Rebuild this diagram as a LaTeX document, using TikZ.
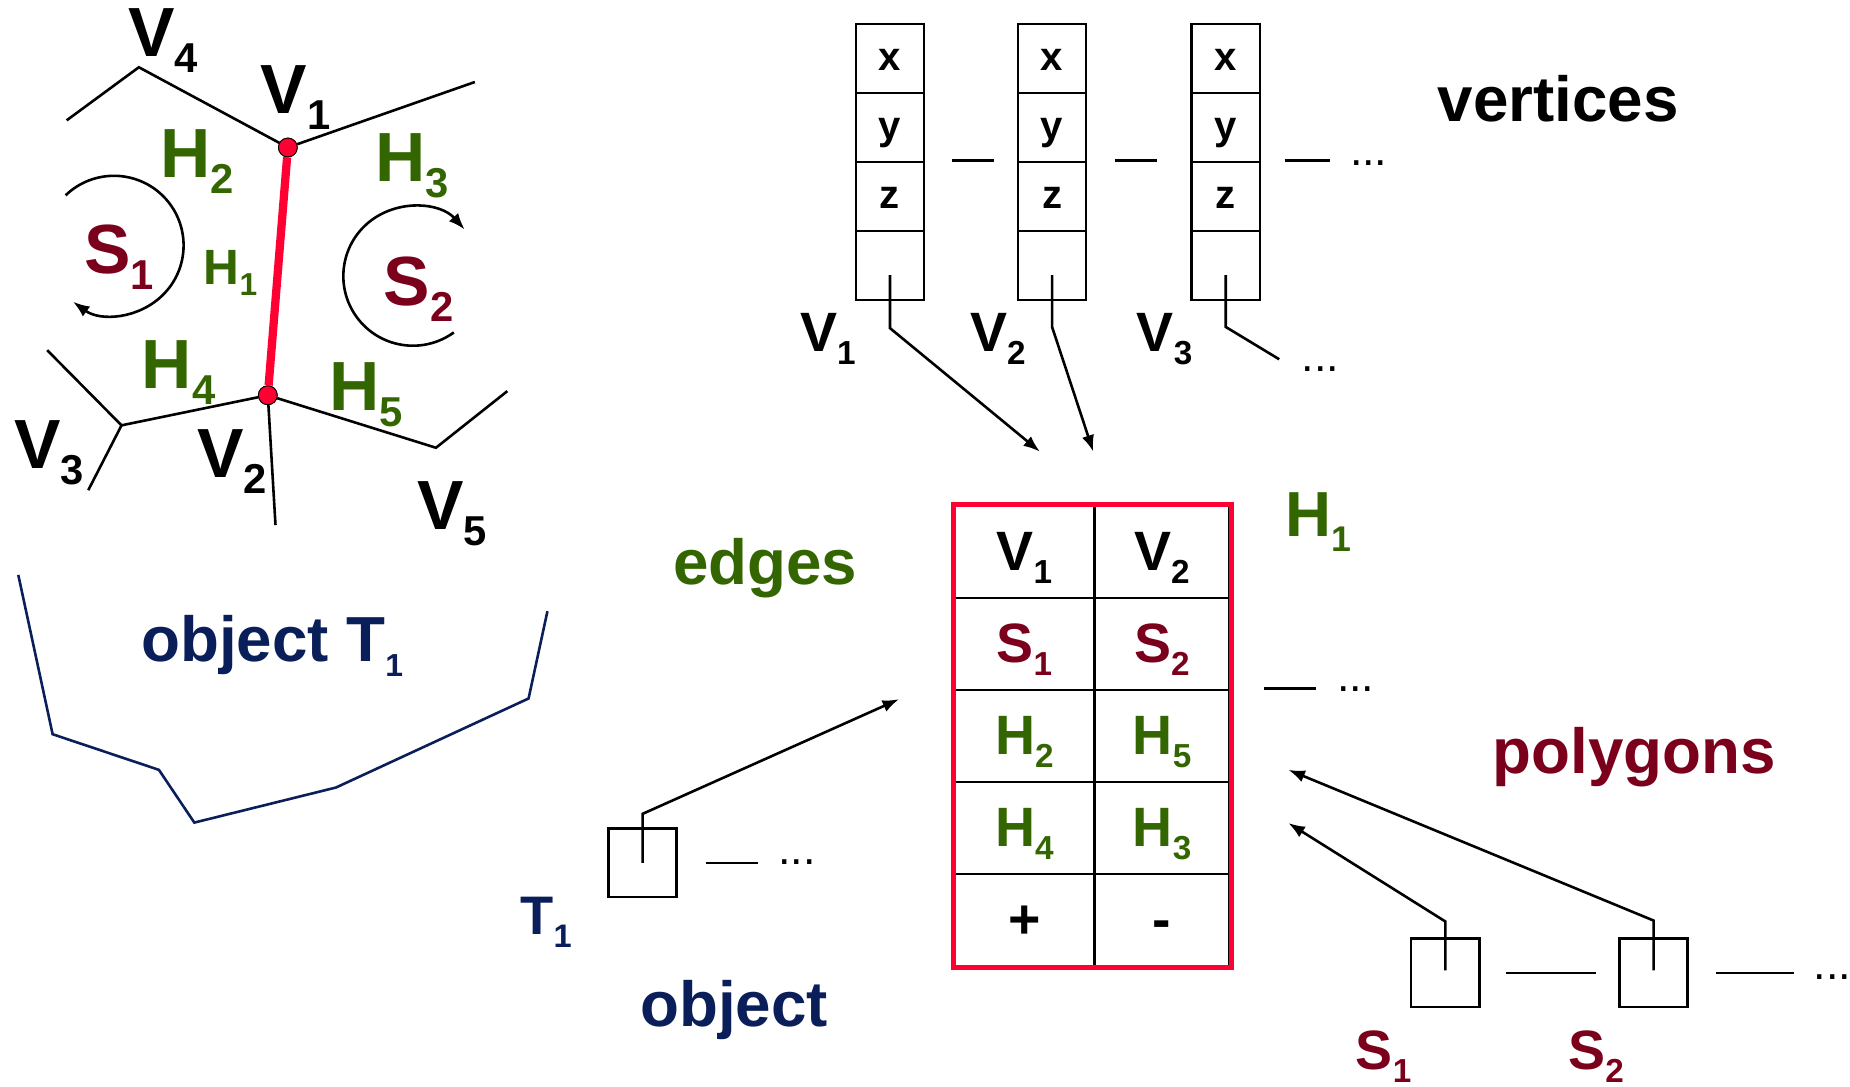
\documentclass[tikz,border=0pt]{standalone}
\usepackage{fontspec}
\setmainfont{Liberation Sans}
\usepackage{graphicx}
\usetikzlibrary{positioning, arrows.meta}

\definecolor{edgered}{RGB}{255,0,51}
\definecolor{hgreen}{RGB}{51,102,0}
\definecolor{sred}{RGB}{123,0,28}
\definecolor{tblue}{RGB}{10,30,90}

\newcommand{\low}[2][0.6]{\raisebox{-0.23em}{\scalebox{#1}{#2}}}

\begin{document}
\begin{tikzpicture}[x=1pt, y=-1pt, node distance=58.5pt, on grid,
    >={Latex[length=14pt, width=10.5pt]},
    wire/.style={line width=2.2pt},
    glbl/.style={inner sep=0pt, anchor=base west, font=\bfseries\fontsize{59}{60}\selectfont},
    title/.style={inner sep=0pt, anchor=base west, font=\bfseries\fontsize{54}{56}\selectfont},
    idx/.style={inner sep=0pt, anchor=base west, font=\bfseries\fontsize{47}{48}\selectfont},
    more/.style={inner sep=0pt, anchor=base west, font=\fontsize{38}{40}\selectfont},
    cell/.style={draw, line width=2.2pt, minimum width=57.7pt, minimum height=58.5pt, inner sep=0pt,
      text height=20pt, text depth=0pt, font=\bfseries\fontsize{34}{35}\selectfont},
    tcell/.style={draw, line width=2.2pt, minimum height=78pt, inner sep=0pt,
      text height=32pt, text depth=0pt, font=\bfseries\fontsize{47}{48}\selectfont},
    ptr/.style={draw, line width=2.2pt, minimum size=58pt, inner sep=0pt},
    vdot/.style={circle, draw, line width=0.7pt, fill=edgered, minimum size=16pt, inner sep=0pt}]
    \useasboundingbox (0,0) rectangle (1568,921);

    % object T1: mesh around the edge
    \coordinate (v1) at (244,125);
    \coordinate (v2) at (227,335);
    \coordinate (v3) at (103,360.5);
    \coordinate (v4) at (117.7,57);
    \coordinate (v5) at (369.5,379.5);
    \coordinate (a1) at (56.5,102);
    \coordinate (a2) at (402.5,69.5);
    \coordinate (a3) at (40,296.8);
    \coordinate (a4) at (74.8,415.5);
    \coordinate (a5) at (233.5,445);
    \coordinate (a6) at (430,331.5);
    \node[vdot] (p1) at (v1) {};
    \node[vdot] (p2) at (v2) {};

    \draw[wire] (a1) -- (v4) -- (p1) -- (a2);
    \draw[wire] (a3) -- (v3) -- (a4);
    \draw[wire] (v3) -- (p2) -- (a5);
    \draw[wire] (p2) -- (v5) -- (a6);
    \draw[edgered, line width=7pt] (p1) -- (p2);
    \node[vdot] at (v1) {};
    \node[vdot] at (v2) {};

    \coordinate (s1c) at (96.6,208);
    \coordinate (s2c) at (350,234);
    \draw[wire, ->] (s1c) ++(134:59pt) arc[start angle=134, end angle=-126, radius=59pt];
    \draw[wire, ->] (s2c) ++(-54:59pt) arc[start angle=-54, end angle=-318, radius=59pt];

    \node[glbl] (lV4) at (108.4,48.2) {V\low{4}};
    \node[glbl] (lV1) at (221,96.3) {V\low{1}};
    \node[glbl, text=hgreen] (lH2) at (136,150.5) {H\low{2}};
    \node[glbl, text=hgreen] (lH3) at (318,153.5) {H\low{3}};
    \node[glbl, text=sred] (lS1) at (71,231.8) {S\low{1}};
    \node[glbl, text=hgreen, font=\bfseries\fontsize{42}{44}\selectfont] (lH1) at (172.5,240.8) {H\low[0.64]{1}};
    \node[glbl, text=sred] (lS2) at (325,259) {S\low{2}};
    \node[glbl, text=hgreen] (lH4) at (120,329.6) {H\low{4}};
    \node[glbl, text=hgreen] (lH5) at (279,347.7) {H\low{5}};
    \node[glbl] (lV3) at (12,397) {V\low{3}};
    \node[glbl] (lV2) at (167,405) {V\low{2}};
    \node[glbl] (lV5) at (353.7,448.5) {V\low{5}};

    \draw[tblue, line width=2.2pt] (15.5,487.3) -- (44.6,622.3) -- (134.7,652.5) -- (164.7,697.2)
        -- (284.7,667.5) -- (448,592) -- (464,518);
    \node[title, text=tblue] (tobj) at (119.5,560.7) {object T\low[0.5]{1}};

    % vertex records
    \node[cell] (r1x) at (754.3,49.6) {x};
    \node[cell, below=of r1x] (r1y) {y};
    \node[cell, below=of r1y] (r1z) {z};
    \node[cell, below=of r1z] (r1p) {};
    \node[cell] (r2x) at (891.7,49.6) {x};
    \node[cell, below=of r2x] (r2y) {y};
    \node[cell, below=of r2y] (r2z) {z};
    \node[cell, below=of r2z] (r2p) {};
    \node[cell] (r3x) at (1038.9,49.6) {x};
    \node[cell, below=of r3x] (r3y) {y};
    \node[cell, below=of r3y] (r3z) {z};
    \node[cell, below=of r3z] (r3p) {};

    \node[idx] (rV1) at (678,298) {V\low{1}};
    \node[idx] (rV2) at (822,298) {V\low{2}};
    \node[idx] (rV3) at (963.3,298) {V\low{3}};
    \node[title] (tvert) at (1218.5,103) {vertices};
    \node[more] (vmore) at (1144,140.5) {...};
    \node[more] (nmore) at (1103,315) {...};

    \draw[wire] ([xshift=22.5pt]r1z.north east) -- ([xshift=-19pt]r2z.north west);
    \draw[wire] ([xshift=23pt]r2z.north east) -- ([xshift=-28pt]r3z.north west);
    \draw[wire] ([xshift=20pt]r3z.north east) -- ++(38.5,0);

    \coordinate (e1in) at (881.4,382.8);
    \coordinate (e2in) at (926.6,382.8);
    \coordinate (r3next) at (1084.2,304.5);
    \draw[wire, ->] ([yshift=-8pt]r1p.center) -- ++(0,45) -- (e1in);
    \draw[wire, ->] ([yshift=-8pt]r2p.center) -- ++(0,44) -- (e2in);
    \draw[wire] ([yshift=-8pt]r3p.center) -- ++(0,44) -- (r3next);

    % edge record
    \node[tcell, minimum width=118.4pt] (c11) at (868.2,467.8) {V\low{1}};
    \node[tcell, minimum width=114.9pt, right=116.65pt of c11] (c12) {V\low{2}};
    \node[tcell, minimum width=118.4pt, below=78pt of c11, text=sred] (c21) {S\low{1}};
    \node[tcell, minimum width=114.9pt, below=78pt of c12, text=sred] (c22) {S\low{2}};
    \node[tcell, minimum width=118.4pt, below=78pt of c21, text=hgreen] (c31) {H\low{2}};
    \node[tcell, minimum width=114.9pt, below=78pt of c22, text=hgreen] (c32) {H\low{5}};
    \node[tcell, minimum width=118.4pt, below=78pt of c31, text=hgreen] (c41) {H\low{4}};
    \node[tcell, minimum width=114.9pt, below=78pt of c32, text=hgreen] (c42) {H\low{3}};
    \node[tcell, minimum width=118.4pt, below=78pt of c41] (c51) {+};
    \node[tcell, minimum width=114.9pt, below=78pt of c42] (c52) {-};
    \draw[edgered, line width=4.2pt] (c11.north west) rectangle (c52.south east);

    \node[title, text=hgreen] (tH1) at (1089,455) {H\low[0.56]{1}};
    \node[title, text=hgreen] (tedge) at (570.4,495.8) {edges};
    \draw[wire] ([xshift=28pt]c32.north east) -- ++(44,0);
    \node[more] (emore) at (1133,586) {...};

    % object record
    \node[ptr] (obox) at (544.6,731.3) {};
    \coordinate (oin) at (762,592.6);
    \draw[wire, ->] (obox.center) -- ++(0,-41.5) -- (oin);
    \draw[wire] ([xshift=23.5pt]obox.east) -- ++(44.3,0);
    \node[more] (omore) at (659.6,733) {...};
    \node[idx, text=tblue, font=\bfseries\fontsize{46}{48}\selectfont] (oT1) at (441,792.4) {T\low{1}};
    \node[title, text=tblue] (tobject) at (542.6,870) {object};

    % polygon records
    \node[ptr] (sbox1) at (1225,824.5) {};
    \node[ptr] (sbox2) at (1401.5,824.5) {};
    \coordinate (pin1) at (1092,697.6);
    \coordinate (pin2) at (1092,652.5);
    \draw[wire, ->] ([yshift=2pt]sbox1.center) -- ++(0,-41.5) -- (pin1);
    \draw[wire, ->] ([yshift=2pt]sbox2.center) -- ++(0,-42.3) -- (pin2);
    \draw[wire] ([xshift=21.5pt]sbox1.east) -- ([xshift=-18.5pt]sbox2.west);
    \draw[wire] ([xshift=23pt]sbox2.east) -- ++(66,0);
    \node[more] (pmore) at (1537,830) {...};
    \node[idx, text=sred] (pS1) at (1149,906.5) {S\low{1}};
    \node[idx, text=sred] (pS2) at (1329,906.5) {S\low{2}};
    \node[title, text=sred] (tpoly) at (1265,656) {polygons};
\end{tikzpicture}
\end{document}
